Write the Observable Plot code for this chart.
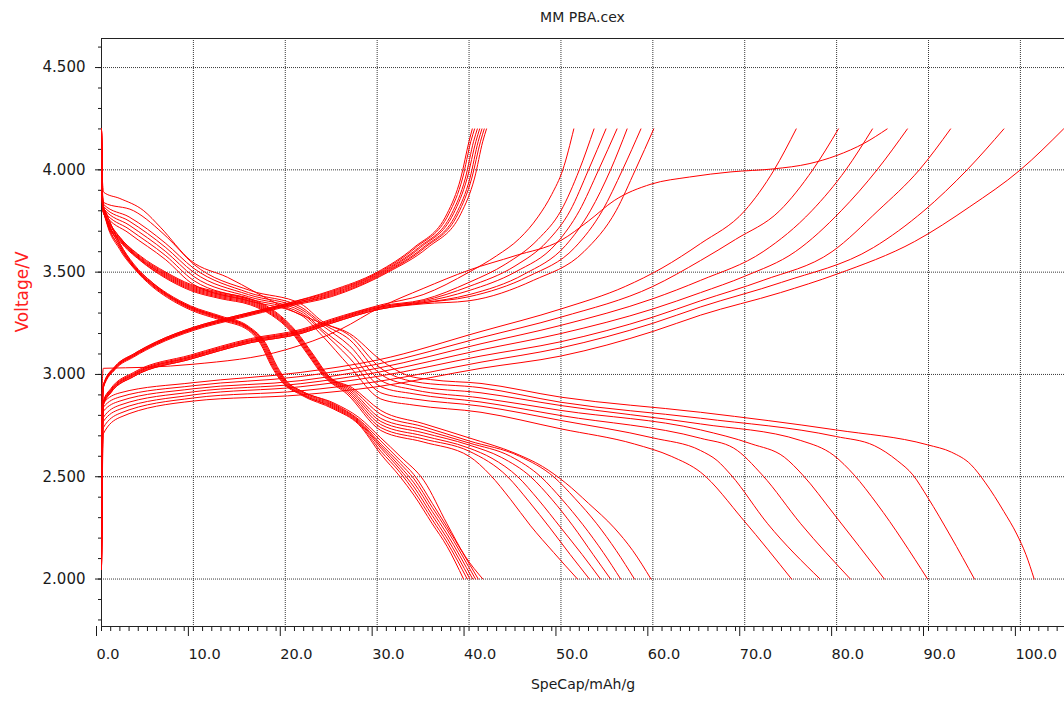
<!DOCTYPE html>
<html><head><meta charset="utf-8">
<script src="https://cdn.jsdelivr.net/npm/d3@7"></script>
<script src="https://cdn.jsdelivr.net/npm/@observablehq/plot@0.6"></script>
<style>
body{margin:0;background:#fff;font-family:"DejaVu Sans",sans-serif;}
#title{height:30px;width:1064px;position:relative;}
#title span{position:absolute;left:101px;right:0;text-align:center;top:9px;font-size:14px;color:#222;}
</style></head><body>
<div id="title"><span>MM PBA.cex</span></div>
<div id="chart"></div>
<script>
// ---- tick values ----
const xMajor = [0, 10, 20, 30, 40, 50, 60, 70, 80, 90, 100];
const yMajor = [2.0, 2.5, 3.0, 3.5, 4.0, 4.5];
const xMinor = d3.range(0, 105);
const yMinor = d3.range(18, 47).map(d => d / 10);

// ---- discharge curves, group A (capacity ~40) : [SpeCap, Voltage] ----
const dischargeA = [
  [[0,4.2],[0.12,3.86],[0.4,3.77],[2,3.61],[3.5,3.52],[5.5,3.43],[7.2,3.375],[9.7,3.315],[13,3.265],[16,3.215],[17.3,3.15],[18.5,3.04],[19.6,2.965],[21.7,2.90],[25.3,2.83],[28,2.755],[30.4,2.61],[32.5,2.50],[34,2.41],[36,2.27],[37.6,2.16],[39.4,2.0]],
  [[0,4.2],[0.12,3.85],[0.4,3.78],[2,3.62],[3.5,3.525],[5.5,3.435],[7.2,3.38],[9.7,3.32],[13,3.27],[16,3.22],[17.4,3.15],[18.6,3.04],[19.7,2.965],[21.7,2.905],[25.3,2.835],[28,2.76],[30.4,2.625],[32.5,2.52],[34,2.43],[36,2.29],[37.6,2.18],[39.8,2.0]],
  [[0,4.2],[0.12,3.85],[0.4,3.78],[2,3.62],[3.5,3.525],[5.5,3.44],[7.2,3.385],[9.7,3.325],[13,3.275],[16,3.225],[17.5,3.15],[18.7,3.04],[19.8,2.965],[21.7,2.905],[25.3,2.84],[28,2.765],[30.4,2.64],[32.5,2.535],[34,2.45],[36,2.31],[37.6,2.20],[40.1,2.0]],
  [[0,4.2],[0.12,3.84],[0.4,3.79],[2,3.63],[3.5,3.53],[5.5,3.44],[7.2,3.385],[9.7,3.325],[13,3.275],[16,3.225],[17.6,3.15],[18.8,3.04],[19.9,2.965],[21.7,2.91],[25.3,2.845],[28,2.77],[30.4,2.65],[32.5,2.55],[34,2.47],[36,2.33],[37.6,2.22],[40.4,2.0]],
  [[0,4.2],[0.12,3.84],[0.4,3.79],[2,3.63],[3.5,3.53],[5.5,3.445],[7.2,3.39],[9.7,3.33],[13,3.28],[16,3.23],[17.7,3.15],[18.9,3.04],[20,2.965],[21.7,2.915],[25.3,2.85],[28,2.775],[30.4,2.66],[32.5,2.565],[34,2.49],[36,2.35],[37.6,2.24],[40.7,2.0]],
  [[0,4.2],[0.12,3.83],[0.4,3.80],[2,3.64],[3.5,3.535],[5.5,3.45],[7.2,3.39],[9.7,3.33],[13,3.28],[16,3.23],[17.8,3.15],[19,3.04],[20.1,2.965],[21.7,2.92],[25.3,2.855],[28,2.78],[30.4,2.675],[32.5,2.58],[34,2.51],[36,2.37],[37.6,2.255],[41.0,2.0]],
  [[0,4.2],[0.12,3.83],[0.4,3.80],[2,3.64],[3.5,3.54],[5.5,3.45],[7.2,3.395],[9.7,3.335],[13,3.285],[16,3.235],[17.9,3.15],[19.1,3.04],[20.2,2.965],[21.7,2.92],[25.3,2.86],[28,2.79],[30.4,2.69],[32.5,2.60],[35.1,2.48],[37.6,2.27],[39.6,2.11],[41.5,2.0]]
];

// ---- discharge curves, group B (capacity ~52-60) ----
const dischargeB = [
  [[0,4.2],[0.12,3.83],[0.6,3.74],[2,3.65],[4.2,3.557],[7,3.47],[9.7,3.41],[13,3.37],[16.2,3.34],[18.5,3.29],[20.6,3.21],[22.4,3.10],[24.2,2.99],[26.7,2.905],[30.4,2.726],[35,2.67],[40,2.60],[42.3,2.509],[44.5,2.39],[46.7,2.26],[49.2,2.13],[51.8,2.0]],
  [[0,4.2],[0.12,3.83],[0.6,3.745],[2,3.655],[4.2,3.56],[7,3.475],[9.7,3.415],[13,3.375],[16.2,3.345],[18.5,3.295],[20.7,3.21],[22.5,3.10],[24.3,2.99],[26.8,2.91],[30.4,2.74],[35,2.685],[40,2.625],[44.2,2.5],[46.5,2.38],[48.8,2.25],[51,2.12],[53.1,2.0]],
  [[0,4.2],[0.12,3.82],[0.6,3.75],[2,3.66],[4.2,3.565],[7,3.48],[9.7,3.42],[13,3.38],[16.2,3.35],[18.5,3.30],[20.8,3.21],[22.6,3.10],[24.4,2.99],[26.9,2.915],[30.4,2.755],[35,2.70],[40,2.64],[42.5,2.59],[45.3,2.5],[47.5,2.39],[50,2.25],[52.3,2.12],[54.3,2.0]],
  [[0,4.2],[0.12,3.82],[0.6,3.75],[2,3.66],[4.2,3.565],[7,3.485],[9.7,3.425],[13,3.385],[16.2,3.355],[18.5,3.305],[20.9,3.21],[22.7,3.10],[24.5,2.99],[27,2.92],[30.4,2.77],[35,2.715],[40,2.655],[43.5,2.595],[46.7,2.5],[49,2.39],[51.3,2.26],[53.5,2.12],[55.4,2.0]],
  [[0,4.2],[0.12,3.81],[0.6,3.755],[2,3.665],[4.2,3.57],[7,3.49],[9.7,3.43],[13,3.39],[16.2,3.36],[18.5,3.31],[21,3.21],[22.8,3.10],[24.6,2.99],[27.1,2.925],[30.4,2.785],[35,2.73],[40,2.665],[44.5,2.60],[47.8,2.5],[50.1,2.39],[52.4,2.265],[54.6,2.13],[56.5,2.0]],
  [[0,4.2],[0.12,3.81],[0.6,3.76],[2,3.67],[4.2,3.575],[7,3.495],[9.7,3.435],[13,3.395],[16.2,3.365],[18.5,3.315],[21.1,3.21],[22.9,3.10],[24.7,2.99],[27.2,2.93],[30.4,2.805],[35,2.745],[40,2.675],[45.5,2.60],[49.2,2.5],[51.5,2.395],[53.9,2.27],[56,2.14],[58.0,2.0]],
  [[0,4.2],[0.12,3.80],[0.6,3.76],[2,3.67],[4.2,3.58],[7,3.50],[9.7,3.44],[13,3.40],[16.2,3.37],[18.5,3.32],[21.2,3.21],[23,3.10],[24.8,2.99],[27.3,2.935],[30.4,2.824],[35,2.76],[40,2.69],[45,2.615],[48,2.55],[50.5,2.47],[53,2.37],[55.8,2.25],[57.8,2.14],[59.8,2.0]]
];

// ---- discharge curves, group C (capacity ~75-101) ----
const dischargeC = [
  [[0,4.2],[0.1,3.84],[0.25,3.79],[3,3.69],[7,3.56],[10,3.44],[16,3.36],[21.7,3.29],[24,3.19],[27,3.04],[30.4,2.88],[34,2.85],[41.3,2.815],[50,2.734],[58,2.66],[62,2.60],[65.2,2.522],[69.9,2.286],[75.1,2.0]],
  [[0,4.2],[0.1,3.85],[0.25,3.80],[3,3.71],[7,3.58],[10,3.46],[16,3.37],[21.7,3.30],[24,3.21],[27,3.08],[30.4,2.91],[34,2.88],[41.3,2.845],[50,2.775],[60,2.69],[65.2,2.628],[67.0,2.579],[68.5,2.509],[72.5,2.270],[78.2,2.0]],
  [[0,4.2],[0.1,3.86],[0.25,3.81],[3,3.73],[7,3.60],[10,3.48],[16,3.38],[21.7,3.31],[24,3.22],[27,3.11],[30.4,2.94],[34,2.905],[41.3,2.865],[50,2.799],[65.2,2.688],[68.8,2.640],[71.9,2.509],[76.1,2.270],[81.5,2.0]],
  [[0,4.2],[0.1,3.87],[0.25,3.82],[3,3.75],[7,3.62],[10,3.50],[16,3.39],[21.7,3.32],[24,3.24],[27,3.14],[30.4,2.97],[34,2.925],[41.3,2.885],[50,2.824],[65.2,2.729],[70.7,2.661],[74.3,2.596],[76.3,2.509],[79.7,2.318],[85.2,2.0]],
  [[0,4.2],[0.1,3.88],[0.25,3.83],[3,3.77],[7,3.64],[10,3.52],[16,3.40],[21.7,3.33],[24,3.25],[27,3.17],[30.4,3.0],[34,2.945],[41.3,2.91],[50,2.848],[65.2,2.758],[76.1,2.677],[79.7,2.604],[81.9,2.509],[84.4,2.367],[89.9,2.0]],
  [[0,4.2],[0.1,3.90],[0.25,3.84],[3.5,3.80],[7.15,3.67],[10,3.54],[16.2,3.41],[21.7,3.345],[24,3.26],[27,3.19],[30.4,3.03],[34,2.965],[41.3,2.935],[50,2.864],[65.2,2.786],[79.9,2.697],[84.1,2.652],[86.6,2.579],[88.3,2.509],[89.9,2.40],[92.4,2.21],[95.0,2.0]],
  [[0,4.2],[0.1,3.95],[0.25,3.89],[2,3.86],[4.6,3.80],[6.4,3.72],[9.7,3.557],[13.7,3.475],[19.8,3.33],[24,3.25],[27,3.20],[30.4,3.07],[33.3,2.995],[35.8,2.975],[41.3,2.956],[50,2.889],[65.2,2.815],[79.9,2.729],[89.9,2.656],[92.5,2.62],[94.6,2.56],[96.2,2.47],[98.2,2.33],[99.6,2.22],[100.6,2.12],[101.5,2.0]]
];

// ---- charge curves, group A (capacity ~40) ----
const chargeA = [
  [[0,2.05],[0.08,2.8],[0.2,2.95],[1.5,3.04],[3.5,3.10],[6,3.16],[10,3.23],[15,3.29],[20,3.345],[25,3.41],[30,3.50],[34,3.62],[37.6,3.785],[39.1,3.96],[40,4.14],[40.35,4.2]],
  [[0,2.05],[0.08,2.8],[0.2,2.95],[1.5,3.04],[3.5,3.10],[6,3.16],[10,3.23],[15,3.29],[20,3.345],[25,3.405],[30.2,3.50],[34.2,3.62],[37.8,3.785],[39.3,3.96],[40.2,4.14],[40.6,4.2]],
  [[0,2.05],[0.08,2.79],[0.2,2.945],[1.5,3.035],[3.5,3.095],[6,3.155],[10,3.225],[15,3.285],[20,3.34],[25,3.40],[30.4,3.50],[34.5,3.62],[38.1,3.785],[39.6,3.96],[40.5,4.14],[40.9,4.2]],
  [[0,2.05],[0.08,2.79],[0.2,2.945],[1.5,3.035],[3.5,3.095],[6,3.155],[10,3.225],[15,3.285],[20,3.34],[25,3.395],[30.6,3.50],[34.7,3.62],[38.3,3.785],[39.8,3.96],[40.75,4.14],[41.15,4.2]],
  [[0,2.05],[0.08,2.78],[0.2,2.94],[1.5,3.03],[3.5,3.09],[6,3.15],[10,3.22],[15,3.28],[20,3.335],[25,3.39],[30.8,3.50],[35.0,3.62],[38.6,3.785],[40.1,3.96],[41.0,4.14],[41.4,4.2]],
  [[0,2.05],[0.08,2.78],[0.2,2.94],[1.5,3.03],[3.5,3.09],[6,3.15],[10,3.22],[15,3.28],[20,3.335],[25,3.385],[31.0,3.50],[35.2,3.62],[38.8,3.785],[40.3,3.96],[41.25,4.14],[41.65,4.2]],
  [[0,2.05],[0.08,2.77],[0.2,2.935],[1.5,3.025],[3.5,3.085],[6,3.145],[10,3.215],[15,3.275],[20,3.33],[25,3.38],[31.2,3.50],[35.5,3.62],[39.1,3.785],[40.6,3.96],[41.5,4.14],[41.9,4.2]]
];

// ---- charge curves, group B (capacity ~51-60) ----
const chargeB = [
  [[0,2.05],[0.08,2.7],[0.2,2.87],[1,2.93],[3.5,3.01],[9.7,3.095],[16.2,3.175],[21.7,3.22],[25,3.27],[30.4,3.34],[35,3.39],[40,3.50],[43,3.58],[45.5,3.665],[47.5,3.77],[49,3.88],[50.2,4.0],[51.4,4.2]],
  [[0,2.05],[0.08,2.7],[0.2,2.865],[1,2.925],[3.5,3.005],[9.7,3.09],[16.2,3.17],[21.7,3.215],[25,3.265],[30.4,3.335],[35,3.365],[40,3.45],[44,3.54],[47.5,3.66],[50,3.80],[52,4.0],[53.6,4.2]],
  [[0,2.05],[0.08,2.69],[0.2,2.86],[1,2.92],[3.5,3.0],[9.7,3.085],[16.2,3.165],[21.7,3.21],[25,3.26],[30.4,3.33],[35,3.36],[40,3.43],[45,3.53],[48.5,3.65],[51,3.80],[53,4.0],[54.9,4.2]],
  [[0,2.05],[0.08,2.69],[0.2,2.86],[1,2.92],[3.5,3.0],[9.7,3.085],[16.2,3.165],[21.7,3.21],[25,3.26],[30.4,3.33],[35,3.355],[40,3.41],[45,3.50],[49.5,3.64],[52,3.80],[54.1,4.0],[56.1,4.2]],
  [[0,2.05],[0.08,2.68],[0.2,2.855],[1,2.915],[3.5,2.995],[9.7,3.08],[16.2,3.16],[21.7,3.205],[25,3.255],[30.4,3.325],[35,3.35],[40,3.39],[46,3.49],[50.5,3.63],[53.2,3.80],[55.4,4.0],[57.2,4.2]],
  [[0,2.05],[0.08,2.68],[0.2,2.85],[1,2.91],[3.5,2.99],[9.7,3.075],[16.2,3.155],[21.7,3.20],[25,3.25],[30.4,3.32],[35,3.35],[40,3.38],[46.5,3.48],[51.5,3.62],[54.5,3.80],[56.7,4.0],[58.7,4.2]],
  [[0,2.05],[0.08,2.67],[0.2,2.85],[1,2.91],[3.5,2.99],[9.7,3.075],[16.2,3.155],[21.7,3.20],[25,3.25],[30.4,3.32],[35,3.345],[40,3.36],[47,3.46],[52.5,3.60],[56,3.80],[58.1,4.0],[60.1,4.2]]
];

// ---- charge curves, group C (capacity ~75-105) ----
const chargeC = [
  [[0,2.05],[0.05,2.55],[0.2,2.86],[2,2.91],[10,2.96],[21.7,3.01],[30,3.07],[41.3,3.21],[50,3.32],[57,3.43],[61,3.52],[65.2,3.64],[70,3.80],[73.2,4.0],[75.6,4.2]],
  [[0,2.05],[0.05,2.5],[0.2,2.84],[2,2.89],[10,2.945],[21.7,2.99],[30,3.05],[41.3,3.18],[50,3.28],[60,3.43],[65.2,3.557],[69,3.66],[73.8,3.80],[77.4,4.0],[80.2,4.2]],
  [[0,2.05],[0.05,2.45],[0.2,2.82],[2,2.87],[10,2.93],[21.7,2.97],[30,3.03],[41.3,3.15],[50,3.24],[60,3.37],[65.2,3.46],[72,3.60],[77.3,3.80],[81.0,4.0],[83.9,4.2]],
  [[0,2.05],[0.05,2.4],[0.2,2.79],[2,2.85],[10,2.915],[21.7,2.955],[30,3.01],[41.3,3.12],[50,3.20],[60,3.32],[65.2,3.40],[70,3.48],[75.5,3.60],[80.5,3.80],[84.4,4.0],[87.7,4.2]],
  [[0,2.05],[0.05,2.38],[0.2,2.77],[2,2.83],[10,2.90],[21.7,2.94],[30,2.99],[41.3,3.09],[50,3.16],[60,3.28],[65.2,3.36],[72,3.46],[79.5,3.60],[84.5,3.80],[89.0,4.0],[92.4,4.2]],
  [[0,2.05],[0.05,2.35],[0.2,2.74],[2,2.81],[10,2.885],[21.7,2.92],[30,2.965],[41.3,3.06],[50,3.13],[60,3.25],[65.2,3.33],[74,3.45],[84,3.62],[89.5,3.80],[94.2,4.0],[98.2,4.2]],
  [[0,2.05],[0.05,2.3],[0.2,2.71],[2,2.79],[10,2.87],[21.7,2.90],[30,2.94],[41.3,3.03],[50,3.09],[60,3.21],[65.2,3.29],[73.9,3.40],[80,3.49],[88.5,3.65],[94.5,3.82],[100,4.0],[104.7,4.2]]
];

// ---- first charge (plateau near 4.0 V) ----
const chargeFirst = [[0,2.05],[0.05,2.9],[0.2,3.03],[5,3.035],[10,3.05],[20,3.12],[26,3.22],[30.4,3.33],[35,3.42],[40,3.51],[45,3.58],[50,3.655],[53,3.75],[55.8,3.85],[59.8,3.93],[64,3.965],[68.5,3.99],[73.2,4.005],[77,4.03],[80,4.07],[83,4.13],[85.5,4.2]];

// ---- build table ----
const rows = [];
const addGroup = (name, curves) => curves.forEach((c, i) => c.forEach(([x, v]) => rows.push({curve: name + i, x, v})));
addGroup("dA", dischargeA);
addGroup("dB", dischargeB);
addGroup("dC", dischargeC);
addGroup("cA", chargeA);
addGroup("cB", chargeB);
addGroup("cC", chargeC);
addGroup("cF", [chargeFirst]);

const yLo = 1.768, yHi = 4.642;
const chart = Plot.plot({
  width: 1064, height: 674,
  marginTop: 8, marginLeft: 101, marginRight: 0, marginBottom: 78,
  x: {domain: [0, 104.8]},
  y: {domain: [yLo, yHi]},
  style: {fontFamily: "DejaVu Sans, sans-serif", fontSize: "15px", color: "#1a1a1a", background: "#fff"},
  marks: [
    Plot.gridX(xMajor.slice(1), {stroke: "#222", strokeOpacity: 0.9, strokeDasharray: "1,1"}),
    Plot.gridY(yMajor, {stroke: "#222", strokeOpacity: 0.9, strokeDasharray: "1,1"}),
    Plot.axisX({ticks: xMinor, tickSize: 5, tickFormat: () => "", label: null}),
    Plot.axisX({ticks: xMajor, tickSize: 10, tickPadding: 12, tickFormat: d => d.toFixed(1), textAnchor: "start", dx: -5, fontSize: 14.5, label: null}),
    Plot.axisY({ticks: yMinor, tickSize: 3, tickFormat: () => "", label: null}),
    Plot.axisY({ticks: yMajor, tickSize: 6, tickPadding: 10, tickFormat: d => d.toFixed(3), fontSize: 15, label: null}),
    Plot.ruleX([0], {stroke: "#222"}),
    Plot.ruleY([yLo], {stroke: "#222"}),
    Plot.ruleY([yHi], {stroke: "#222"}),
    Plot.line(rows, {x: "x", y: "v", z: "curve", stroke: "#ff0000", strokeWidth: 1, curve: "monotone-x", clip: true}),
    Plot.text(["Voltage/V"], {frameAnchor: "left", rotate: -90, dx: -79, fill: "#ff2020", fontSize: 17}),
    Plot.text(["SpeCap/mAh/g"], {frameAnchor: "bottom", dy: 62, fill: "#1a1a1a", fontSize: 14})
  ]
});
document.getElementById("chart").appendChild(chart);
</script>
</body></html>
